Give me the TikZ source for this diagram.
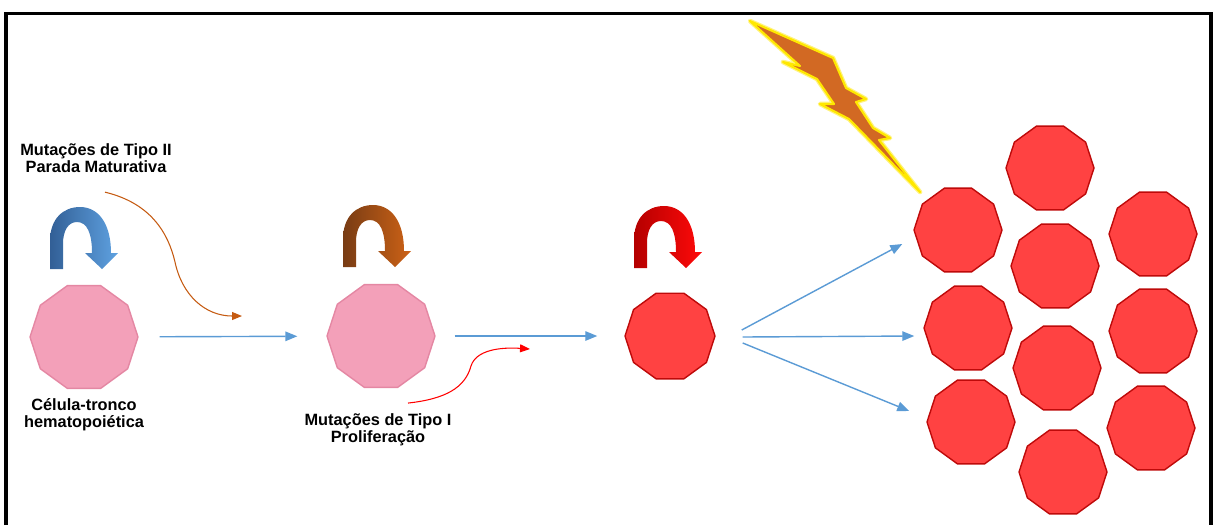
\documentclass[tikz,border=0pt]{standalone}
\usepackage{fontspec}
\setmainfont{Liberation Sans}
\usepackage{tikz}
\usetikzlibrary{shapes.geometric, arrows.meta, positioning}

\definecolor{stempink}{RGB}{243,160,185}
\definecolor{stemedge}{RGB}{228,135,163}
\definecolor{blastred}{RGB}{255,66,66}
\definecolor{blastedge}{RGB}{190,10,10}
\definecolor{flowblue}{RGB}{91,155,213}
\definecolor{bluedark}{RGB}{50,95,150}
\definecolor{bluelight}{RGB}{95,162,225}
\definecolor{browndark}{RGB}{120,60,20}
\definecolor{brownlight}{RGB}{205,98,22}
\definecolor{reddark}{RGB}{180,0,0}
\definecolor{redlight}{RGB}{255,10,10}
\definecolor{boltfill}{RGB}{210,105,35}
\definecolor{boltglow}{RGB}{255,232,0}
\definecolor{hintbrown}{RGB}{197,90,17}

\tikzstyle{cell} = [regular polygon, regular polygon sides=10, inner sep=0pt, line width=0.8pt]
\tikzstyle{stemcell} = [cell, fill=stempink, draw=stemedge, minimum size=2.16cm]
\tikzstyle{blast} = [cell, fill=blastred, draw=blastedge, minimum size=1.76cm]
\tikzstyle{txt} = [align=center, inner sep=0pt, font=\bfseries\fontsize{9.3}{10}\selectfont]
\tikzstyle{flow} = [draw=flowblue, line width=0.8pt, -{Triangle[length=0.24cm, width=0.19cm]}]
\tikzstyle{hint} = [line width=0.6pt, -{Triangle[length=0.2cm, width=0.16cm]}]

% curved block arrow, origin at the foot of its left leg
\tikzset{
  uturn/.pic={
    \path[pic actions] (0,0) -- (0,-28) .. controls (0,-50) and (13,-62) .. (30,-62)
      .. controls (48,-62) and (61,-46) .. (61,-16) -- (68,-16) -- (52,0) -- (35,-16)
      -- (42,-16) .. controls (42,-36) and (37,-47) .. (27,-47)
      .. controls (18,-47) and (13,-38) .. (13,-25) -- (13,0) -- cycle;
  }
}

\begin{document}
\begin{tikzpicture}[x=0.02cm, y=-0.02cm]
  \useasboundingbox (0,0) rectangle (1213,525);
  % frame, open at the bottom
  \draw[line width=0.07cm] (6,525) -- (6,13.5) -- (1211,13.5) -- (1211,525);

  % stem cell, progenitor, leukemic cell
  \node[stemcell] (hsc) at (84,337) {};
  \node[txt, below=0.18cm of hsc] (hsclbl) {Célula-tronco\\hematopoiética};
  \node[stemcell] (prog) at (381,336) {};
  \node[txt, below=0.5cm of prog, xshift=-0.06cm] (mut1lbl) {Mutações de Tipo I\\Proliferação};
  \node[blast, minimum size=1.8cm] (leuk) at (670,336) {};
  \node[txt] (mut2lbl) at (96,158) {Mutações de Tipo II\\Parada Maturativa};

  % clone
  \foreach \n/\x/\y in {1/1050/168, 2/958/230, 3/1153/234, 4/1055/266, 5/968/328,
                        6/1153/331, 7/1057/368, 8/971/422, 9/1151/428, 10/1063/472}
    \node[blast] (c\n) at (\x,\y) {};

  % self-renewal
  \pic[left color=bluedark, right color=bluelight] at (50,269) {uturn};
  \pic[left color=browndark, right color=brownlight] at (343,267) {uturn};
  \pic[left color=reddark, right color=redlight] at (634,268) {uturn};

  % bolt
  \filldraw[fill=boltfill, draw=boltglow!50, line width=2.6pt, line join=round]
    (750,21) -- (833,58) -- (846,88) -- (866,99) -- (856,102) -- (873,128) -- (890,138)
    -- (879,140) -- (920,192) -- (849,119) -- (820,104) -- (834,104) -- (817,79)
    -- (783,62) -- (800,66) -- cycle;
  \filldraw[fill=boltfill, draw=boltglow, line width=1.2pt, line join=round]
    (750,21) -- (833,58) -- (846,88) -- (866,99) -- (856,102) -- (873,128) -- (890,138)
    -- (879,140) -- (920,192) -- (849,119) -- (820,104) -- (834,104) -- (817,79)
    -- (783,62) -- (800,66) -- cycle;

  % progression
  \draw[flow, shorten <=0.42cm, shorten >=0.58cm] (hsc) -- (prog);
  \draw[flow, shorten <=0.38cm, shorten >=0.54cm] (prog) -- (leuk);
  \draw[flow] ([shift={(26,-6)}]leuk.east) -- ([shift={(-11,14)}]c2.west);
  \draw[flow] ([shift={(27,1)}]leuk.east) -- ([shift={(-9,8)}]c5.west);
  \draw[flow] ([shift={(27,7)}]leuk.east) -- ([shift={(-17,-11)}]c8.west);

  % mutation hits
  \coordinate (hit2) at (242,316);
  \coordinate (hit1) at (530,349);
  \draw[hint, draw=hintbrown] ([shift={(9,19)}]mut2lbl.south)
    .. controls (150,203) and (168,232) .. (175,262)
    .. controls (182,295) and (205,316) .. (hit2);
  \draw[hint, draw=red] ([shift={(30,-10)}]mut1lbl.north)
    .. controls (445,399) and (465,388) .. (471,366)
    .. controls (476,350) and (500,347) .. (hit1);
\end{tikzpicture}
\end{document}
